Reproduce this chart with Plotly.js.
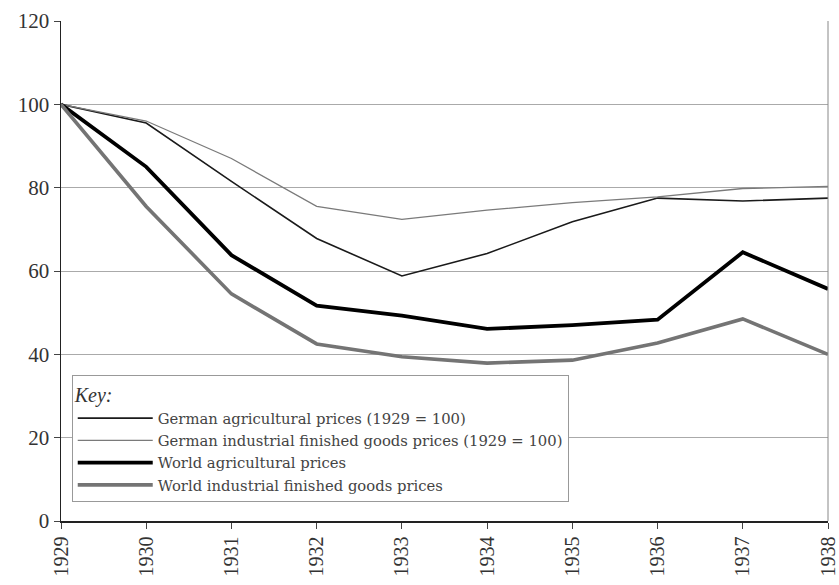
<!DOCTYPE html>
<html>
<head>
<meta charset="utf-8">
<script src="https://cdn.plot.ly/plotly-3.0.1.min.js"></script>
<style>html,body{margin:0;padding:0;background:#fff;}#chart{width:839px;height:585px;}</style>
</head>
<body>
<div id="chart"></div>
<script>
const years = ["1929","1930","1931","1932","1933","1934","1935","1936","1937","1938"];
const germanAgri = [100, 95.5, 81.5, 67.8, 58.8, 64.2, 71.8, 77.5, 76.8, 77.5];
const germanInd  = [100, 96, 87, 75.5, 72.4, 74.6, 76.4, 77.8, 79.8, 80.3];
const worldAgri  = [100, 85, 63.8, 51.7, 49.3, 46.1, 47.0, 48.3, 64.5, 55.7];
const worldInd   = [100, 75.5, 54.5, 42.5, 39.4, 37.9, 38.6, 42.7, 48.5, 40];
const seriesNames = [
  "German agricultural prices (1929 = 100)",
  "German industrial finished goods prices (1929 = 100)",
  "World agricultural prices",
  "World industrial finished goods prices"
];
const yTicks = [0, 20, 40, 60, 80, 100, 120];

const FONT = "Liberation Serif, Times New Roman, serif";
function tr(y, name, color, width, g) {
  return {x: years.map(Number), y: y, name: name, type: "scatter", mode: "lines",
    line: {color: color, width: width}, legendgroup: g};
}
const data = [
  tr(germanAgri, seriesNames[0], "#1a1a1a", 1.6, "a"),
  tr(germanInd, seriesNames[1], "#7a7a7a", 1.3, "b"),
  tr(worldAgri, seriesNames[2], "#000000", 3.8, "c"),
  tr(worldInd, seriesNames[3], "#747474", 3.6, "d")
];
const layout = {
  width: 839, height: 585,
  margin: {l: 61, r: 11, t: 21, b: 64},
  paper_bgcolor: "#fff", plot_bgcolor: "#fff",
  font: {family: FONT, color: "#333", size: 20},
  showlegend: true,
  legend: {
    x: 0.014, y: 0.292, xanchor: "left", yanchor: "top",
    bgcolor: "#fff", bordercolor: "#999", borderwidth: 1,
    font: {family: "DejaVu Serif, serif", size: 14.8, color: "#444"},
    title: {text: "<i>Key:</i>", side: "top", font: {family: FONT, size: 20, color: "#333"}},
    traceorder: "normal", itemwidth: 75
  },
  xaxis: {
    range: [1929, 1938], tickvals: years.map(Number), ticktext: years,
    tickangle: -90, showgrid: false, zeroline: false,
    showline: true, linecolor: "#222", linewidth: 1.5,
    ticks: "outside", ticklen: 6, tickcolor: "#444",
    ticklabeloverflow: "allow",
    tickfont: {family: FONT, size: 20, color: "#333"}
  },
  yaxis: {
    range: [0, 120], tickvals: yTicks, showgrid: true, gridcolor: "#aaa", gridwidth: 1,
    zeroline: false, showline: true, linecolor: "#222", linewidth: 1.5,
    ticks: "outside", ticklen: 6, tickcolor: "#444",
    tickfont: {family: FONT, size: 21, color: "#333"}
  },
  shapes: [
    {type: "line", xref: "paper", yref: "paper", x0: 1, x1: 1, y0: 0, y1: 1,
     line: {color: "#888", width: 1}}
  ]
};
Plotly.newPlot("chart", data, layout, {displayModeBar: false, staticPlot: true});
</script>
</body>
</html>
